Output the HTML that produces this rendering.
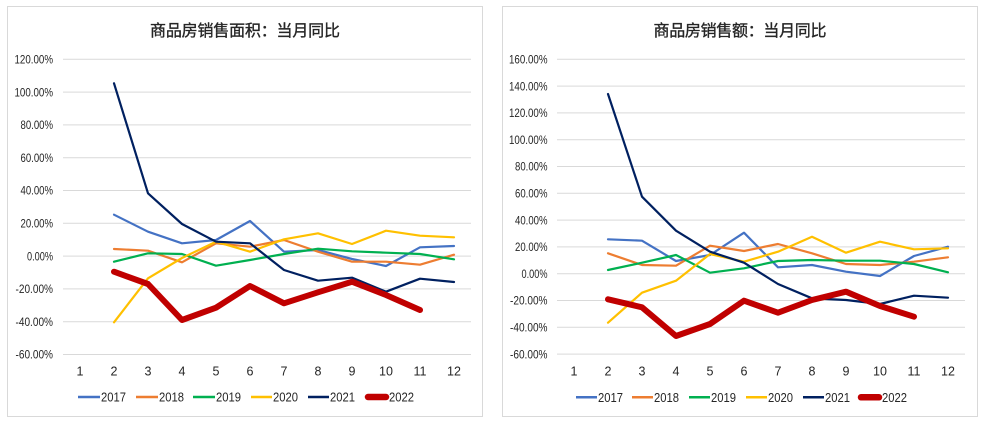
<!DOCTYPE html>
<html><head><meta charset="utf-8"><style>
html,body{margin:0;padding:0;background:#fff;}
svg{display:block;}
.t{font-family:"Liberation Sans","Noto Sans CJK SC",sans-serif;font-size:16px;fill:#262626;stroke:#262626;stroke-width:0.35;}
.y{font-family:"Liberation Sans",sans-serif;font-size:12px;fill:#262626;text-anchor:end;}
.x{font-family:"Liberation Sans",sans-serif;font-size:12.5px;fill:#262626;text-anchor:middle;}
.l{font-family:"Liberation Sans",sans-serif;font-size:12.5px;fill:#262626;}
.g{stroke:#d9d9d9;stroke-width:1;}
polyline{fill:none;stroke-linejoin:round;stroke-linecap:round;}
</style></head><body>
<svg width="985" height="425" viewBox="0 0 985 425" xmlns="http://www.w3.org/2000/svg">
<rect x="0" y="0" width="985" height="425" fill="#fff"/>
<!-- LEFT PANEL -->
<rect x="7.5" y="6.5" width="475" height="410" fill="#fff" stroke="#d9d9d9"/>
<text class="t" x="245" y="36" text-anchor="middle" textLength="190">商品房销售面积：当月同比</text>
<g class="g">
<line x1="63" x2="471" y1="59.3" y2="59.3"/><line x1="63" x2="471" y1="92.1" y2="92.1"/>
<line x1="63" x2="471" y1="124.9" y2="124.9"/><line x1="63" x2="471" y1="157.7" y2="157.7"/>
<line x1="63" x2="471" y1="190.5" y2="190.5"/><line x1="63" x2="471" y1="223.3" y2="223.3"/>
<line x1="63" x2="471" y1="256.1" y2="256.1"/><line x1="63" x2="471" y1="288.9" y2="288.9"/>
<line x1="63" x2="471" y1="321.7" y2="321.7"/><line x1="63" x2="471" y1="354.5" y2="354.5"/>
</g>
<g>
<text class="y" x="53" y="63.5" textLength="38.5" lengthAdjust="spacingAndGlyphs">120.00%</text>
<text class="y" x="53" y="96.3" textLength="38.5" lengthAdjust="spacingAndGlyphs">100.00%</text>
<text class="y" x="53" y="129.1" textLength="32.5" lengthAdjust="spacingAndGlyphs">80.00%</text>
<text class="y" x="53" y="161.9" textLength="32.5" lengthAdjust="spacingAndGlyphs">60.00%</text>
<text class="y" x="53" y="194.7" textLength="32.5" lengthAdjust="spacingAndGlyphs">40.00%</text>
<text class="y" x="53" y="227.5" textLength="32.5" lengthAdjust="spacingAndGlyphs">20.00%</text>
<text class="y" x="53" y="260.3" textLength="26" lengthAdjust="spacingAndGlyphs">0.00%</text>
<text class="y" x="53" y="293.1" textLength="37.5" lengthAdjust="spacingAndGlyphs">-20.00%</text>
<text class="y" x="53" y="325.9" textLength="37.5" lengthAdjust="spacingAndGlyphs">-40.00%</text>
<text class="y" x="53" y="358.7" textLength="37.5" lengthAdjust="spacingAndGlyphs">-60.00%</text>
</g>
<g>
<text class="x" x="80" y="375.5">1</text><text class="x" x="114" y="375.5">2</text><text class="x" x="148" y="375.5">3</text>
<text class="x" x="182" y="375.5">4</text><text class="x" x="216" y="375.5">5</text><text class="x" x="250" y="375.5">6</text>
<text class="x" x="284" y="375.5">7</text><text class="x" x="318" y="375.5">8</text><text class="x" x="352" y="375.5">9</text>
<text class="x" x="386" y="375.5">10</text><text class="x" x="420" y="375.5">11</text><text class="x" x="454" y="375.5">12</text>
</g>
<polyline stroke="#4472C4" stroke-width="2.2" points="114,214.7 148,231.7 182,243.3 216,240 250,221 284,251.7 318,250 352,259 386,266 420,247.3 454,246"/>
<polyline stroke="#ED7D31" stroke-width="2.2" points="114,249 148,250.7 182,262.3 216,243.3 250,246.7 284,240 318,251.7 352,261.7 386,261.7 420,264.7 454,254.7"/>
<polyline stroke="#00B050" stroke-width="2.2" points="114,261.7 148,253.3 182,254 216,265.7 250,260 284,254 318,248.7 352,251.3 386,252.7 420,254 454,259.3"/>
<polyline stroke="#FFC000" stroke-width="2.2" points="114,322.3 148,278.3 182,258 216,241.7 250,251.7 284,239.3 318,233.3 352,244 386,230.7 420,235.7 454,237.3"/>
<polyline stroke="#002060" stroke-width="2.2" points="114,83.3 148,193.3 182,224 216,241.7 250,243.3 284,270 318,280.7 352,277.7 386,291.7 420,278.7 454,282"/>
<polyline stroke="#C00000" stroke-width="6" points="114,271.7 148,284 182,320 216,307.7 250,286 284,303.3 318,292.3 352,281.7 386,295 420,310"/>
<g>
<line x1="78" x2="100" y1="397" y2="397" stroke="#4472C4" stroke-width="2.5"/><text class="l" x="101" y="401.5" textLength="25" lengthAdjust="spacingAndGlyphs">2017</text>
<line x1="136" x2="158" y1="397" y2="397" stroke="#ED7D31" stroke-width="2.5"/><text class="l" x="159" y="401.5" textLength="25" lengthAdjust="spacingAndGlyphs">2018</text>
<line x1="193" x2="215" y1="397" y2="397" stroke="#00B050" stroke-width="2.5"/><text class="l" x="216" y="401.5" textLength="25" lengthAdjust="spacingAndGlyphs">2019</text>
<line x1="251" x2="272" y1="397" y2="397" stroke="#FFC000" stroke-width="2.5"/><text class="l" x="273" y="401.5" textLength="25" lengthAdjust="spacingAndGlyphs">2020</text>
<line x1="308" x2="329" y1="397" y2="397" stroke="#002060" stroke-width="2.5"/><text class="l" x="330" y="401.5" textLength="25" lengthAdjust="spacingAndGlyphs">2021</text>
<line x1="368" x2="386" y1="397" y2="397" stroke="#C00000" stroke-width="6.5" stroke-linecap="round"/><text class="l" x="389" y="401.5" textLength="25" lengthAdjust="spacingAndGlyphs">2022</text>
</g>

<!-- RIGHT PANEL -->
<rect x="502.5" y="6.5" width="475" height="410" fill="#fff" stroke="#d9d9d9"/>
<text class="t" x="740" y="36" text-anchor="middle" textLength="173">商品房销售额：当月同比</text>
<g class="g">
<line x1="557" x2="965" y1="59.3" y2="59.3"/><line x1="557" x2="965" y1="86.1" y2="86.1"/>
<line x1="557" x2="965" y1="112.9" y2="112.9"/><line x1="557" x2="965" y1="139.7" y2="139.7"/>
<line x1="557" x2="965" y1="166.5" y2="166.5"/><line x1="557" x2="965" y1="193.3" y2="193.3"/>
<line x1="557" x2="965" y1="220.1" y2="220.1"/><line x1="557" x2="965" y1="246.9" y2="246.9"/>
<line x1="557" x2="965" y1="273.7" y2="273.7"/><line x1="557" x2="965" y1="300.5" y2="300.5"/>
<line x1="557" x2="965" y1="327.3" y2="327.3"/><line x1="557" x2="965" y1="354.1" y2="354.1"/>
</g>
<g>
<text class="y" x="547.5" y="63.5" textLength="38.5" lengthAdjust="spacingAndGlyphs">160.00%</text>
<text class="y" x="547.5" y="90.3" textLength="38.5" lengthAdjust="spacingAndGlyphs">140.00%</text>
<text class="y" x="547.5" y="117.1" textLength="38.5" lengthAdjust="spacingAndGlyphs">120.00%</text>
<text class="y" x="547.5" y="143.9" textLength="38.5" lengthAdjust="spacingAndGlyphs">100.00%</text>
<text class="y" x="547.5" y="170.7" textLength="32.5" lengthAdjust="spacingAndGlyphs">80.00%</text>
<text class="y" x="547.5" y="197.5" textLength="32.5" lengthAdjust="spacingAndGlyphs">60.00%</text>
<text class="y" x="547.5" y="224.3" textLength="32.5" lengthAdjust="spacingAndGlyphs">40.00%</text>
<text class="y" x="547.5" y="251.1" textLength="32.5" lengthAdjust="spacingAndGlyphs">20.00%</text>
<text class="y" x="547.5" y="277.9" textLength="26" lengthAdjust="spacingAndGlyphs">0.00%</text>
<text class="y" x="547.5" y="304.7" textLength="37.5" lengthAdjust="spacingAndGlyphs">-20.00%</text>
<text class="y" x="547.5" y="331.5" textLength="37.5" lengthAdjust="spacingAndGlyphs">-40.00%</text>
<text class="y" x="547.5" y="358.3" textLength="37.5" lengthAdjust="spacingAndGlyphs">-60.00%</text>
</g>
<g>
<text class="x" x="574" y="375.5">1</text><text class="x" x="608" y="375.5">2</text><text class="x" x="642" y="375.5">3</text>
<text class="x" x="676" y="375.5">4</text><text class="x" x="710" y="375.5">5</text><text class="x" x="744" y="375.5">6</text>
<text class="x" x="778" y="375.5">7</text><text class="x" x="812" y="375.5">8</text><text class="x" x="846" y="375.5">9</text>
<text class="x" x="880" y="375.5">10</text><text class="x" x="914" y="375.5">11</text><text class="x" x="948" y="375.5">12</text>
</g>
<polyline stroke="#4472C4" stroke-width="2.2" points="608,239.3 642,240.7 676,261 710,255 744,232.7 778,267.3 812,265 846,271.7 880,276 914,256 948,246.7"/>
<polyline stroke="#ED7D31" stroke-width="2.2" points="608,253.3 642,265 676,265.7 710,245.7 744,251 778,244 812,253.3 846,264 880,265 914,261.7 948,257.3"/>
<polyline stroke="#00B050" stroke-width="2.2" points="608,270 642,262.7 676,255 710,272.7 744,268.3 778,261 812,260 846,260.7 880,260.7 914,264 948,272.3"/>
<polyline stroke="#FFC000" stroke-width="2.2" points="608,322.7 642,292.7 676,280.7 710,254 744,261.7 778,251.7 812,236.7 846,252.7 880,241.7 914,249.3 948,248.3"/>
<polyline stroke="#002060" stroke-width="2.2" points="608,94 642,196.7 676,230.7 710,251.7 744,262.7 778,284 812,298.3 846,300 880,304 914,295.7 948,297.7"/>
<polyline stroke="#C00000" stroke-width="6" points="608,299.3 642,307.3 676,336 710,324 744,300.7 778,312.7 812,300 846,291.7 880,306 914,316.7"/>
<g>
<line x1="576" x2="597" y1="397.3" y2="397.3" stroke="#4472C4" stroke-width="2.5"/><text class="l" x="598" y="401.8" textLength="25" lengthAdjust="spacingAndGlyphs">2017</text>
<line x1="632" x2="653" y1="397.3" y2="397.3" stroke="#ED7D31" stroke-width="2.5"/><text class="l" x="654" y="401.8" textLength="25" lengthAdjust="spacingAndGlyphs">2018</text>
<line x1="689" x2="710" y1="397.3" y2="397.3" stroke="#00B050" stroke-width="2.5"/><text class="l" x="711" y="401.8" textLength="25" lengthAdjust="spacingAndGlyphs">2019</text>
<line x1="746" x2="767" y1="397.3" y2="397.3" stroke="#FFC000" stroke-width="2.5"/><text class="l" x="768" y="401.8" textLength="25" lengthAdjust="spacingAndGlyphs">2020</text>
<line x1="803" x2="824" y1="397.3" y2="397.3" stroke="#002060" stroke-width="2.5"/><text class="l" x="825" y="401.8" textLength="25" lengthAdjust="spacingAndGlyphs">2021</text>
<line x1="861" x2="879" y1="397.3" y2="397.3" stroke="#C00000" stroke-width="6.5" stroke-linecap="round"/><text class="l" x="882" y="401.8" textLength="25" lengthAdjust="spacingAndGlyphs">2022</text>
</g>
</svg>
</body></html>
